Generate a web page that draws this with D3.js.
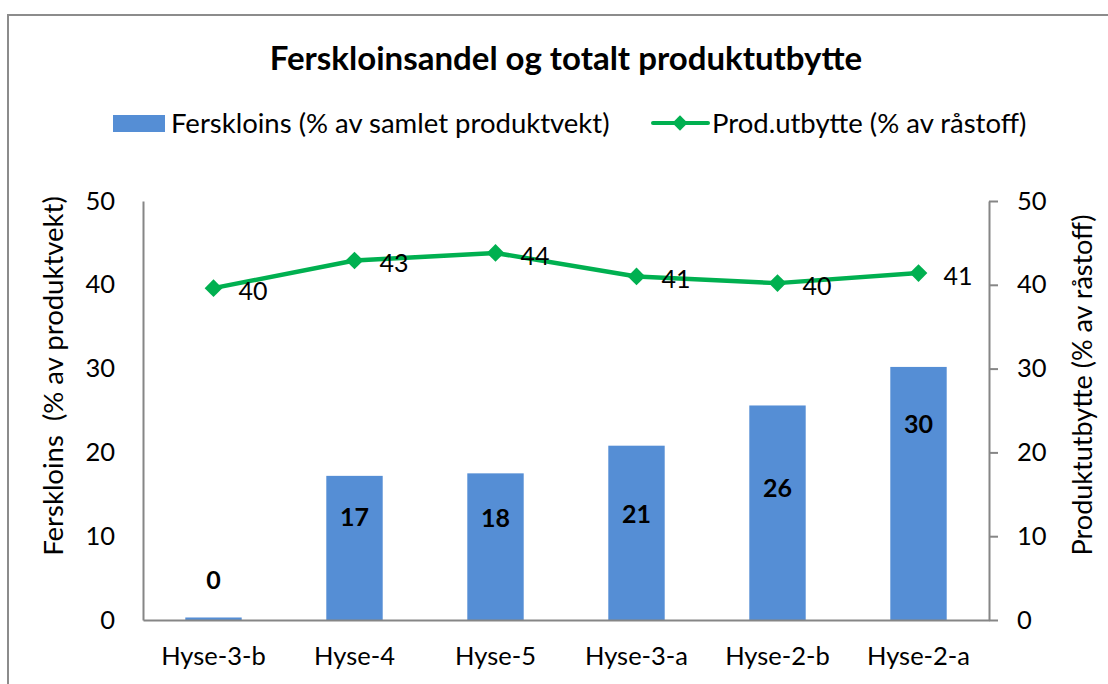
<!DOCTYPE html>
<html>
<head>
<meta charset="utf-8">
<script src="https://cdn.jsdelivr.net/npm/d3@7"></script>
<style>
    body { margin: 0; background: #fff; }
    svg text { font-family: Lato, "DejaVu Sans", sans-serif; fill: #000; }
    .axis path, .axis line { stroke: #868686; stroke-width: 2; }
</style>
</head>
<body>
<div id="chart"></div>
<script>
var categories = ["Hyse-3-b", "Hyse-4", "Hyse-5", "Hyse-3-a", "Hyse-2-b", "Hyse-2-a"];
var fersklois = [0.3, 17.2, 17.5, 20.8, 25.6, 30.2];
var utbytte = [39.6, 42.9, 43.8, 41.0, 40.2, 41.4];
// where Excel put the bar labels (in axis units, they were dragged by hand)
var barLabelPos = [4.8, 12.3, 12.1, 12.6, 15.7, 23.3];
var yTicks = [0, 10, 20, 30, 40, 50];

var dim = {
    width: 1108, height: 684,
    margin: { top: 201, right: 119, bottom: 64, left: 143 }
};
dim.plot = {
    width: dim.width - dim.margin.left - dim.margin.right,
    height: dim.height - dim.margin.top - dim.margin.bottom
};

var x = d3.scaleBand()
        .domain(categories)
        .range([0, dim.plot.width])
        .padding(0);

var y = d3.scaleLinear()
        .domain([0, 50])
        .range([dim.plot.height, 0]);

var y2 = d3.scaleLinear()
        .domain([0, 50])
        .range([dim.plot.height, 0]);

var barWidth = x.bandwidth() * 0.4;

var svg = d3.select("#chart").append("svg")
        .attr("width", dim.width)
        .attr("height", dim.height);

// chart frame, only top and left edge are inside the picture
svg.append("rect")
        .attr("x", 8)
        .attr("y", 15)
        .attr("width", 1300)
        .attr("height", 900)
        .attr("fill", "none")
        .attr("stroke", "#8c8c8c")
        .attr("stroke-width", 2);

svg.append("text")
        .attr("x", 566)
        .attr("y", 58)
        .attr("dy", "0.35em")
        .attr("text-anchor", "middle")
        .style("font-size", "33px")
        .style("font-weight", "bold")
        .text("Ferskloinsandel og totalt produktutbytte");

// legend
var legend = svg.append("g")
        .attr("transform", "translate(0,123)");

legend.append("rect")
        .attr("x", 113)
        .attr("y", -8)
        .attr("width", 52)
        .attr("height", 17)
        .attr("fill", "#558ED5");

legend.append("text")
        .attr("x", 171)
        .attr("dy", "0.35em")
        .style("font-size", "27.5px")
        .text("Ferskloins (% av samlet produktvekt)");

legend.append("line")
        .attr("x1", 653)
        .attr("x2", 708)
        .attr("stroke", "#00B050")
        .attr("stroke-width", 4)
        .attr("stroke-linecap", "round");

legend.append("path")
        .attr("transform", "translate(680,0)")
        .attr("d", d3.symbol().type(d3.symbolDiamond2).size(150))
        .attr("fill", "#00B050");

legend.append("text")
        .attr("x", 712)
        .attr("dy", "0.35em")
        .style("font-size", "27.5px")
        .text("Prod.utbytte (% av råstoff)");

var g = svg.append("g")
        .attr("transform", "translate(" + dim.margin.left + "," + dim.margin.top + ")");

// bars
g.selectAll("rect.bar")
        .data(fersklois)
    .enter().append("rect")
        .attr("class", "bar")
        .attr("x", function(d, i) { return x(categories[i]) + (x.bandwidth() - barWidth) / 2; })
        .attr("y", function(d) { return y(d); })
        .attr("width", barWidth)
        .attr("height", function(d) { return y(0) - y(d); })
        .attr("fill", "#558ED5");

g.selectAll("text.barlabel")
        .data(fersklois)
    .enter().append("text")
        .attr("class", "barlabel")
        .attr("x", function(d, i) { return x(categories[i]) + x.bandwidth() / 2; })
        .attr("y", function(d, i) { return y(barLabelPos[i]); })
        .attr("dy", "0.35em")
        .attr("text-anchor", "middle")
        .style("font-size", "25px")
        .style("font-weight", "bold")
        .text(function(d) { return Math.round(d); });

// axes
var xAxis = d3.axisBottom(x)
        .tickSize(0)
        .tickPadding(27);

var yAxis = d3.axisLeft(y)
        .tickValues(yTicks)
        .tickSize(0)
        .tickPadding(28);

var y2Axis = d3.axisRight(y2)
        .tickValues(yTicks)
        .tickSize(9)
        .tickSizeOuter(0)
        .tickPadding(19);

g.append("g")
        .attr("class", "y axis")
        .call(yAxis);

g.append("g")
        .attr("class", "y2 axis")
        .attr("transform", "translate(" + dim.plot.width + ",0)")
        .call(y2Axis);

g.append("g")
        .attr("class", "x axis")
        .attr("transform", "translate(0," + dim.plot.height + ")")
        .call(xAxis);

g.selectAll(".axis text")
        .style("font-size", "25.5px")
        .style("font-family", "Lato, sans-serif")
        .attr("fill", "#000");

// line series on the secondary axis
var line = d3.line()
        .x(function(d, i) { return x(categories[i]) + x.bandwidth() / 2; })
        .y(function(d) { return y2(d); });

g.append("path")
        .datum(utbytte)
        .attr("d", line)
        .attr("fill", "none")
        .attr("stroke", "#00B050")
        .attr("stroke-width", 4.5)
        .attr("stroke-linejoin", "round");

g.selectAll("path.marker")
        .data(utbytte)
    .enter().append("path")
        .attr("class", "marker")
        .attr("transform", function(d, i) {
            return "translate(" + (x(categories[i]) + x.bandwidth() / 2) + "," + y2(d) + ")";
        })
        .attr("d", d3.symbol().type(d3.symbolDiamond2).size(200))
        .attr("fill", "#00B050");

g.selectAll("text.linelabel")
        .data(utbytte)
    .enter().append("text")
        .attr("class", "linelabel")
        .attr("x", function(d, i) { return x(categories[i]) + x.bandwidth() / 2 + 25; })
        .attr("y", function(d) { return y2(d) + 3; })
        .attr("dy", "0.35em")
        .style("font-size", "25px")
        .text(function(d) { return Math.round(d); });

// axis titles
svg.append("text")
        .attr("transform", "translate(53,376) rotate(-90)")
        .attr("dy", "0.35em")
        .attr("text-anchor", "middle")
        .style("font-size", "27.5px")
        .style("white-space", "pre")
        .text("Ferskloins  (% av produktvekt)");

svg.append("text")
        .attr("transform", "translate(1083,385) rotate(-90)")
        .attr("dy", "0.35em")
        .attr("text-anchor", "middle")
        .style("font-size", "27px")
        .text("Produktutbytte (% av råstoff)");
</script>
</body>
</html>
